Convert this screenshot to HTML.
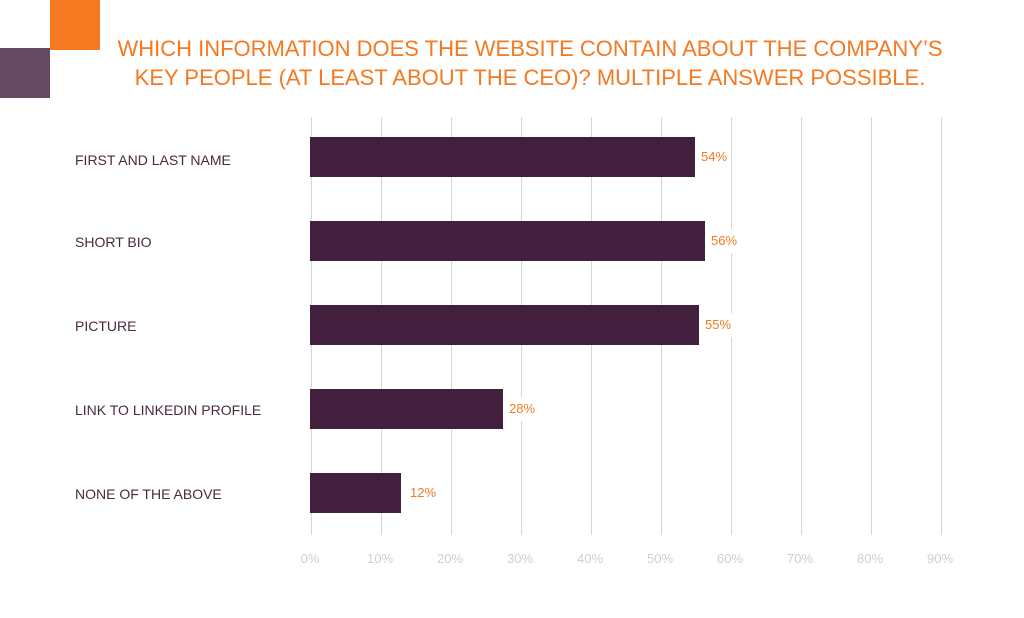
<!DOCTYPE html>
<html><head><style>
body{margin:0;width:1024px;height:618px;background:#fff;position:relative;overflow:hidden;font-family:"Liberation Sans",sans-serif}
.a{position:absolute}
.t{left:0;width:1060px;text-align:center;color:#f47920;font-size:22px;line-height:29px;top:34px}
.g{top:117px;height:418px;width:1px;background:#d6d6d6}
.b{left:310px;height:40px;background:#42203d}
.l{left:75px;font-size:14px;color:#4a2a40;line-height:16px}
.v{font-size:13px;color:#f47920;background:#fff;padding:4px 3px;line-height:16px}
.k{top:551px;font-size:13px;color:#cfcfcf;width:40px;text-align:center}
</style></head><body>
<div class="a" style="left:50px;top:0;width:50px;height:50px;background:#f47920"></div>
<div class="a" style="left:0;top:48px;width:50px;height:50px;background:#664a62"></div>
<div class="a t">WHICH INFORMATION DOES THE WEBSITE CONTAIN ABOUT THE COMPANY’S<br>KEY PEOPLE (AT LEAST ABOUT THE CEO)? MULTIPLE ANSWER POSSIBLE.</div>
<div class="a g" style="left:311px"></div><div class="a g" style="left:381px"></div><div class="a g" style="left:451px"></div><div class="a g" style="left:521px"></div><div class="a g" style="left:591px"></div><div class="a g" style="left:661px"></div><div class="a g" style="left:731px"></div><div class="a g" style="left:801px"></div><div class="a g" style="left:871px"></div><div class="a g" style="left:941px"></div>
<div class="a b" style="top:137px;width:385px"></div>
<div class="a b" style="top:221px;width:395px"></div>
<div class="a b" style="top:305px;width:389px"></div>
<div class="a b" style="top:389px;width:193px"></div>
<div class="a b" style="top:473px;width:91px"></div>
<div class="a v" style="left:698px;top:145px">54%</div>
<div class="a v" style="left:708px;top:229px">56%</div>
<div class="a v" style="left:702px;top:313px">55%</div>
<div class="a v" style="left:506px;top:397px">28%</div>
<div class="a v" style="left:407px;top:481px">12%</div>
<div class="a l" style="top:152px">FIRST AND LAST NAME</div>
<div class="a l" style="top:234px">SHORT BIO</div>
<div class="a l" style="top:318px">PICTURE</div>
<div class="a l" style="top:402px">LINK TO LINKEDIN PROFILE</div>
<div class="a l" style="top:486px">NONE OF THE ABOVE</div>
<div class="a k" style="left:290px">0%</div><div class="a k" style="left:360px">10%</div><div class="a k" style="left:430px">20%</div><div class="a k" style="left:500px">30%</div><div class="a k" style="left:570px">40%</div><div class="a k" style="left:640px">50%</div><div class="a k" style="left:710px">60%</div><div class="a k" style="left:780px">70%</div><div class="a k" style="left:850px">80%</div><div class="a k" style="left:920px">90%</div>
</body></html>
